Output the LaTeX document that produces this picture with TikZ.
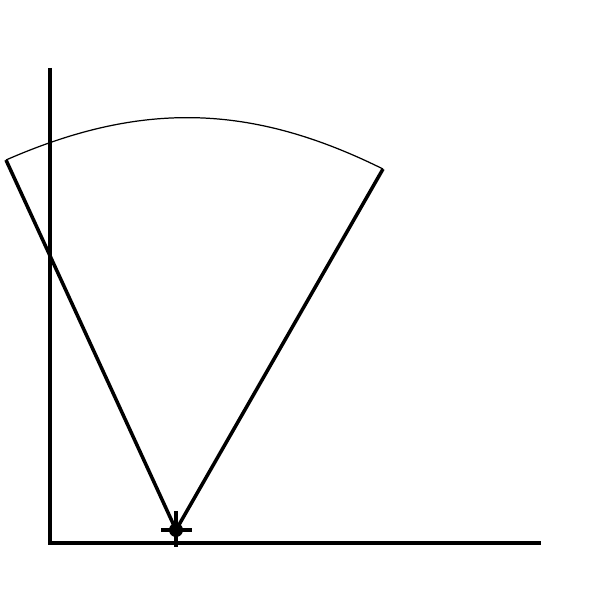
\documentclass[tikz,border=0pt]{standalone}
\usepackage{tikz}

\begin{document}
\begin{tikzpicture}

\tikzset{axis/.style = {line width=2.2pt}}
\tikzset{ray/.style = {line width=2pt}}
\tikzset{pivot/.style = {shape=circle,fill,inner sep=0pt,minimum size=0.28cm}}

\useasboundingbox (0,0) rectangle (12,12);

% axes
\coordinate (o) at (1,1.14);
\coordinate (ytop) at (1,10.64);
\coordinate (xend) at (10.82,1.14);
\draw[axis] (ytop) -- (o) -- (xend);

% pivot
\node[pivot] (p) at (3.52,1.4) {};
\coordinate (ct) at (3.52,1.78);
\coordinate (cb) at (3.52,1.06);
\coordinate (cl) at (3.22,1.4);
\coordinate (cr) at (3.84,1.4);
\draw[ray] (ct) -- (cb);
\draw[ray] (cl) -- (cr);

% rays
\coordinate (l) at (0.12,8.8);
\coordinate (r) at (7.66,8.62);
\draw[ray] (p.center) -- (l);
\draw[ray] (p.center) -- (r);

% arc
\draw[line width=0.7pt] [bend left=25] (l) to (r);

\end{tikzpicture}
\end{document}
